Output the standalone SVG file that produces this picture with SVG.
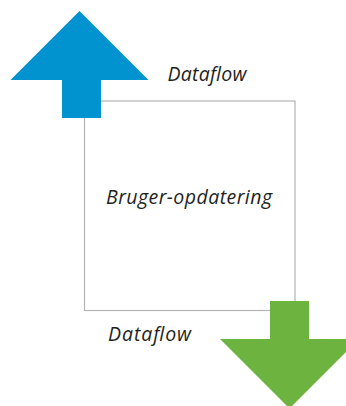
<svg xmlns="http://www.w3.org/2000/svg" width="346" height="406" viewBox="0 0 346 406">
<style>
.lbl{font-family:"Open Sans","Noto Sans",sans-serif;font-style:italic;font-size:19.5px;fill:#231f20}
.box{fill:#fff;stroke:#b3b3b3;stroke-width:1.2}
</style>
<rect width="346" height="406" fill="#fff"/>
<g id="node-box">
<rect class="box" x="84.5" y="101" width="210.5" height="209.5"/>
<text class="lbl" x="106" y="204" textLength="166" lengthAdjust="spacing">Bruger-opdatering</text>
</g>
<g id="connectors">
<polygon id="arrow-up" points="79.5,11 148.5,80 101,80 101,118 62,118 62,80 10.5,80" fill="#0093d0"/>
<polygon id="arrow-down" points="270,301 309,301 309,339 359,339 289.5,408.5 220,339 270,339" fill="#6db33f"/>
</g>
<g id="label-top"><text class="lbl" x="167.5" y="81" textLength="79" lengthAdjust="spacing">Dataflow</text></g>
<g id="label-bottom"><text class="lbl" x="108" y="341" textLength="83" lengthAdjust="spacing">Dataflow</text></g>
</svg>
